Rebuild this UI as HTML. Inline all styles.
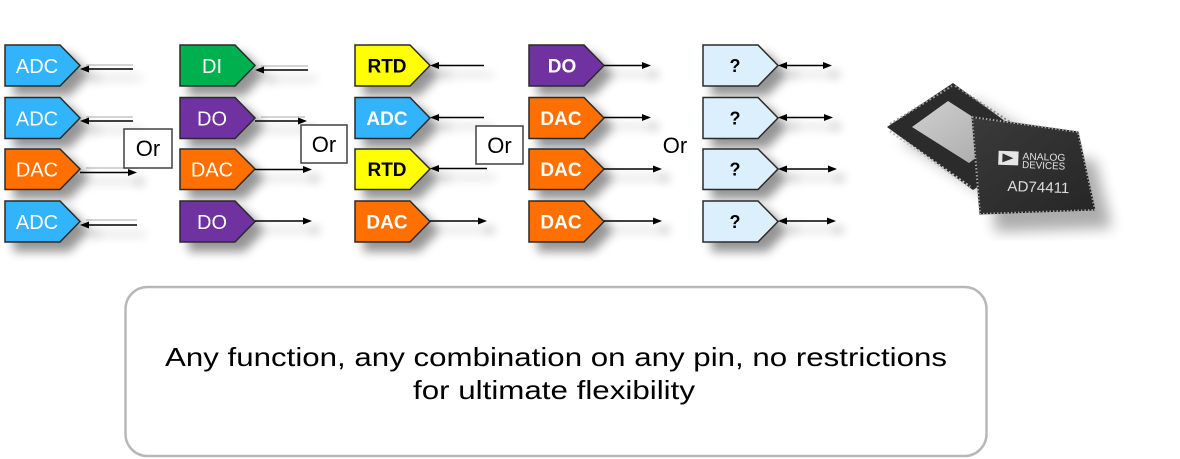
<!DOCTYPE html>
<html><head><meta charset="utf-8"><style>
html,body{margin:0;padding:0;background:#fff;}
svg{display:block;}
</style></head><body>
<svg width="1180" height="459" viewBox="0 0 1180 459" xmlns="http://www.w3.org/2000/svg" font-family="Liberation Sans, Arial, sans-serif">
<defs>
<filter id="sh" x="-30%" y="-40%" width="180%" height="220%">
<feGaussianBlur in="SourceAlpha" stdDeviation="5"/>
<feOffset dx="9" dy="9"/>
<feComponentTransfer><feFuncA type="linear" slope="0.42"/></feComponentTransfer>
<feMerge><feMergeNode/><feMergeNode in="SourceGraphic"/></feMerge>
</filter>
<filter id="blur8"><feGaussianBlur stdDeviation="7"/></filter>
<linearGradient id="front" x1="0" y1="0" x2="1" y2="1">
<stop offset="0" stop-color="#3a3a3a"/><stop offset="1" stop-color="#262626"/>
</linearGradient>
<linearGradient id="inner" x1="0" y1="0" x2="1" y2="1">
<stop offset="0" stop-color="#d0d0d0"/><stop offset="1" stop-color="#a8a8a8"/>
</linearGradient>
</defs>

<!-- faint ghost lines -->
<g stroke="#d4d4d4" stroke-width="2">
<line x1="86" y1="65" x2="133" y2="65"/>
<line x1="86" y1="117" x2="133" y2="117"/>
<line x1="86" y1="168" x2="133" y2="168"/>
<line x1="86" y1="220" x2="137" y2="220"/>
<line x1="261" y1="66" x2="308" y2="66"/>
<line x1="261" y1="117" x2="305" y2="117"/>
</g>

<!-- Column 1 -->
<g filter="url(#sh)" stroke="#2a2a2a" stroke-width="1.5">
<polygon points="5,45 60,45 80,65.5 60,86 5,86" fill="#33b4fc"/>
<line x1="84" y1="69" x2="133" y2="69" stroke="#000"/>
<polygon points="80,69 89,65.5 89,72.5" fill="#000" stroke="none"/>
</g>
<g filter="url(#sh)" stroke="#2a2a2a" stroke-width="1.5">
<polygon points="5,97.5 60,97.5 80,118 60,138.5 5,138.5" fill="#33b4fc"/>
<line x1="84" y1="121" x2="133" y2="121" stroke="#000"/>
<polygon points="80,121 89,117.5 89,124.5" fill="#000" stroke="none"/>
</g>
<g filter="url(#sh)" stroke="#2a2a2a" stroke-width="1.5">
<polygon points="5,149 60,149 80,169 60,189.5 5,189.5" fill="#ff7000"/>
<line x1="80" y1="172.5" x2="130" y2="172.5" stroke="#000"/>
<polygon points="137,172.5 128,169 128,176" fill="#000" stroke="none"/>
</g>
<g filter="url(#sh)" stroke="#2a2a2a" stroke-width="1.5">
<polygon points="5,201 60,201 80,221.5 60,242 5,242" fill="#33b4fc"/>
<line x1="84" y1="225" x2="137" y2="225" stroke="#000"/>
<polygon points="80,225 89,221.5 89,228.5" fill="#000" stroke="none"/>
</g>
<g fill="#fff" font-size="20" text-anchor="middle">
<text x="37" y="73">ADC</text>
<text x="37" y="125.5">ADC</text>
<text x="37" y="176.5">DAC</text>
<text x="37" y="229">ADC</text>
</g>

<!-- Column 2 -->
<g filter="url(#sh)" stroke="#2a2a2a" stroke-width="1.5">
<polygon points="180,45 235,45 255,65.5 235,86 180,86" fill="#00b050"/>
<line x1="259" y1="70" x2="308" y2="70" stroke="#000"/>
<polygon points="255,70 264,66.5 264,73.5" fill="#000" stroke="none"/>
</g>
<g filter="url(#sh)" stroke="#2a2a2a" stroke-width="1.5">
<polygon points="180,97.5 235,97.5 255,118 235,138.5 180,138.5" fill="#7030a0"/>
<line x1="255" y1="121" x2="300" y2="121" stroke="#000"/>
<polygon points="307,121 298,117.5 298,124.5" fill="#000" stroke="none"/>
</g>
<g filter="url(#sh)" stroke="#2a2a2a" stroke-width="1.5">
<polygon points="180,149 235,149 255,169 235,189.5 180,189.5" fill="#ff7000"/>
<line x1="255" y1="169.5" x2="305" y2="169.5" stroke="#000"/>
<polygon points="312,169.5 303,166 303,173" fill="#000" stroke="none"/>
</g>
<g filter="url(#sh)" stroke="#2a2a2a" stroke-width="1.5">
<polygon points="180,201 235,201 255,221.5 235,242 180,242" fill="#7030a0"/>
<line x1="255" y1="221" x2="305" y2="221" stroke="#000"/>
<polygon points="312,221 303,217.5 303,224.5" fill="#000" stroke="none"/>
</g>
<g fill="#fff" font-size="20" text-anchor="middle">
<text x="212" y="73">DI</text>
<text x="212" y="125.5">DO</text>
<text x="212" y="176.5">DAC</text>
<text x="212" y="229">DO</text>
</g>

<!-- Column 3 -->
<g filter="url(#sh)" stroke="#2a2a2a" stroke-width="1.5">
<polygon points="355,45 410,45 430,65.5 410,86 355,86" fill="#ffff00"/>
<line x1="434" y1="65.5" x2="484" y2="65.5" stroke="#000"/>
<polygon points="430,65.5 439,62 439,69" fill="#000" stroke="none"/>
</g>
<g filter="url(#sh)" stroke="#2a2a2a" stroke-width="1.5">
<polygon points="355,97.5 410,97.5 430,118 410,138.5 355,138.5" fill="#33b4fc"/>
<line x1="434" y1="117.5" x2="484" y2="117.5" stroke="#000"/>
<polygon points="430,117.5 439,114 439,121" fill="#000" stroke="none"/>
</g>
<g filter="url(#sh)" stroke="#2a2a2a" stroke-width="1.5">
<polygon points="355,149 410,149 430,169 410,189.5 355,189.5" fill="#ffff00"/>
<line x1="434" y1="168.5" x2="487" y2="168.5" stroke="#000"/>
<polygon points="430,168.5 439,165 439,172" fill="#000" stroke="none"/>
</g>
<g filter="url(#sh)" stroke="#2a2a2a" stroke-width="1.5">
<polygon points="355,201 410,201 430,221.5 410,242 355,242" fill="#ff7000"/>
<line x1="430" y1="221" x2="480" y2="221" stroke="#000"/>
<polygon points="487,221 478,217.5 478,224.5" fill="#000" stroke="none"/>
</g>
<g font-size="19" font-weight="bold" text-anchor="middle">
<text x="387" y="72.5" fill="#000">RTD</text>
<text x="387" y="125" fill="#fff">ADC</text>
<text x="387" y="176" fill="#000">RTD</text>
<text x="387" y="228.5" fill="#fff">DAC</text>
</g>

<!-- Column 4 -->
<g filter="url(#sh)" stroke="#2a2a2a" stroke-width="1.5">
<polygon points="529,45 584,45 604,65.5 584,86 529,86" fill="#7030a0"/>
<line x1="604" y1="65.5" x2="644" y2="65.5" stroke="#000"/>
<polygon points="651,65.5 642,62 642,69" fill="#000" stroke="none"/>
</g>
<g filter="url(#sh)" stroke="#2a2a2a" stroke-width="1.5">
<polygon points="529,97.5 584,97.5 604,118 584,138.5 529,138.5" fill="#ff7000"/>
<line x1="604" y1="117.5" x2="644" y2="117.5" stroke="#000"/>
<polygon points="651,117.5 642,114 642,121" fill="#000" stroke="none"/>
</g>
<g filter="url(#sh)" stroke="#2a2a2a" stroke-width="1.5">
<polygon points="529,149 584,149 604,169 584,189.5 529,189.5" fill="#ff7000"/>
<line x1="604" y1="169" x2="655" y2="169" stroke="#000"/>
<polygon points="662,169 653,165.5 653,172.5" fill="#000" stroke="none"/>
</g>
<g filter="url(#sh)" stroke="#2a2a2a" stroke-width="1.5">
<polygon points="529,201 584,201 604,221.5 584,242 529,242" fill="#ff7000"/>
<line x1="604" y1="221" x2="655" y2="221" stroke="#000"/>
<polygon points="662,221 653,217.5 653,224.5" fill="#000" stroke="none"/>
</g>
<g font-size="19" font-weight="bold" text-anchor="middle" fill="#fff">
<text x="562" y="72.5">DO</text>
<text x="561" y="125">DAC</text>
<text x="561" y="176">DAC</text>
<text x="561" y="228.5">DAC</text>
</g>

<!-- Column 5 -->
<g filter="url(#sh)" stroke="#2a2a2a" stroke-width="1.5">
<polygon points="703,45 758,45 778,65.5 758,86 703,86" fill="#dbeffc"/>
<line x1="782" y1="65.5" x2="825" y2="65.5" stroke="#000"/>
<polygon points="778,65.5 787,62 787,69" fill="#000" stroke="none"/>
<polygon points="832,65.5 823,62 823,69" fill="#000" stroke="none"/>
</g>
<g filter="url(#sh)" stroke="#2a2a2a" stroke-width="1.5">
<polygon points="703,97.5 758,97.5 778,118 758,138.5 703,138.5" fill="#dbeffc"/>
<line x1="782" y1="117.5" x2="826" y2="117.5" stroke="#000"/>
<polygon points="778,117.5 787,114 787,121" fill="#000" stroke="none"/>
<polygon points="833,117.5 824,114 824,121" fill="#000" stroke="none"/>
</g>
<g filter="url(#sh)" stroke="#2a2a2a" stroke-width="1.5">
<polygon points="703,149 758,149 778,169 758,189.5 703,189.5" fill="#dbeffc"/>
<line x1="782" y1="169" x2="830" y2="169" stroke="#000"/>
<polygon points="778,169 787,165.5 787,172.5" fill="#000" stroke="none"/>
<polygon points="837,169 828,165.5 828,172.5" fill="#000" stroke="none"/>
</g>
<g filter="url(#sh)" stroke="#2a2a2a" stroke-width="1.5">
<polygon points="703,201 758,201 778,221.5 758,242 703,242" fill="#dbeffc"/>
<line x1="782" y1="221" x2="829" y2="221" stroke="#000"/>
<polygon points="778,221 787,217.5 787,224.5" fill="#000" stroke="none"/>
<polygon points="836,221 827,217.5 827,224.5" fill="#000" stroke="none"/>
</g>
<g font-size="18" font-weight="bold" text-anchor="middle" fill="#000">
<text x="735" y="72">?</text>
<text x="735" y="124.5">?</text>
<text x="735" y="175.5">?</text>
<text x="735" y="228">?</text>
</g>

<!-- Or boxes -->
<g fill="#fff" stroke="#404040" stroke-width="1.5">
<rect x="124" y="129" width="48" height="39"/>
<rect x="301" y="125" width="46" height="38"/>
<rect x="476" y="126" width="47" height="38"/>
</g>
<g font-size="22" text-anchor="middle" fill="#000">
<text x="148" y="156">Or</text>
<text x="324" y="152">Or</text>
<text x="499.5" y="153">Or</text>
<text x="675" y="153">Or</text>
</g>

<!-- Chips -->
<g>
<polygon points="900,140 975,100 1060,150 1000,205" fill="#000" opacity="0.25" filter="url(#blur8)"/>
<polygon points="990,150 1095,160 1112,228 995,232" fill="#000" opacity="0.32" filter="url(#blur8)"/>
<!-- back chip -->
<polygon points="887,127 953,83 1039,146 973,190" fill="#2b2b2b"/>
<polygon points="912,127 948,101 1004,137 969,163" fill="url(#inner)"/>
<line x1="890" y1="131" x2="970" y2="187" stroke="#c4c4c4" stroke-width="3" stroke-dasharray="2 2.2"/>
<line x1="890" y1="124" x2="952" y2="86" stroke="#9a9a9a" stroke-width="2" stroke-dasharray="2 2.2"/>
<line x1="955" y1="86" x2="1010" y2="122" stroke="#8a8a8a" stroke-width="2" stroke-dasharray="2 2.2"/>
<!-- front chip -->
<polygon points="972,117 1078,132 1095,210 980,214" fill="url(#front)" stroke="#1c1c1c" stroke-width="1"/>
<polyline points="972,117 1078,132 1095,210 980,214 972,117" fill="none" stroke="#a8a8a8" stroke-width="2" stroke-dasharray="1.5 2"/>
<g transform="rotate(2 1035 170)">
<rect x="998" y="152" width="20" height="14" fill="#e6e6e6"/>
<polygon points="1002,154.5 1002,163.5 1013,159" fill="#333"/>
<text x="1022" y="160" font-size="10" fill="#e0e0e0" textLength="43" lengthAdjust="spacingAndGlyphs">ANALOG</text>
<text x="1022" y="168.5" font-size="10" fill="#e0e0e0" textLength="43" lengthAdjust="spacingAndGlyphs">DEVICES</text>
<text x="1008" y="192" font-size="15" fill="#dcdcdc" textLength="62" lengthAdjust="spacingAndGlyphs">AD74411</text>
</g>
</g>

<!-- bottom box -->
<rect x="125.5" y="287" width="861" height="169" rx="22" ry="22" fill="#fff" stroke="#b8b8b8" stroke-width="2.5"/>
<g font-size="26" fill="#000" text-anchor="middle">
<text x="556" y="366" textLength="782" lengthAdjust="spacingAndGlyphs">Any function, any combination on any pin, no restrictions</text>
<text x="554" y="399" textLength="282" lengthAdjust="spacingAndGlyphs">for ultimate flexibility</text>
</g>
</svg>
</body></html>
